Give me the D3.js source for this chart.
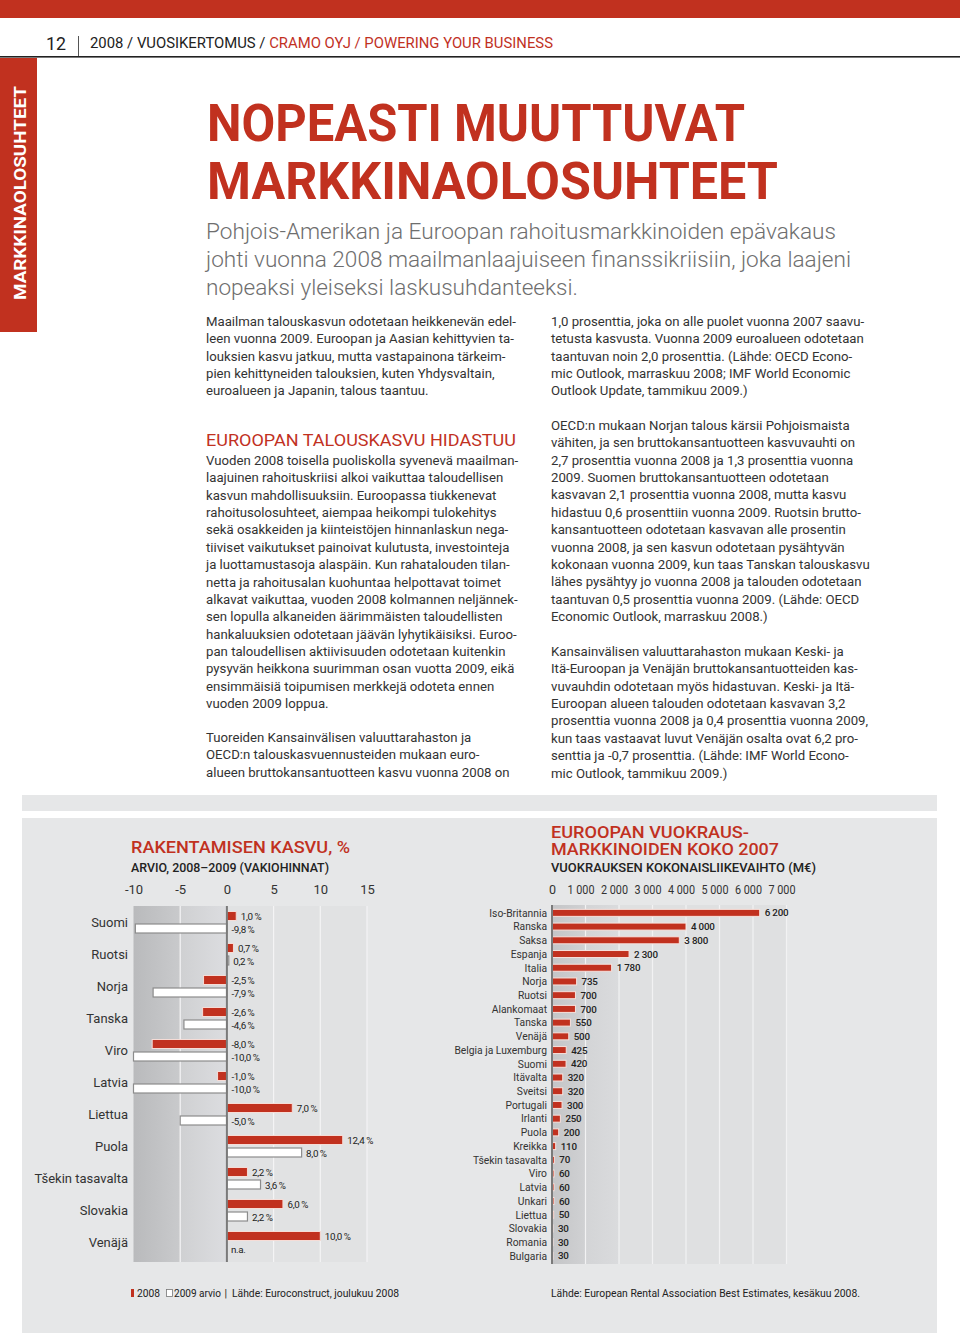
<!DOCTYPE html>
<html><head><meta charset="utf-8">
<script src="https://cdn.jsdelivr.net/npm/d3@7/dist/d3.min.js"></script>
<style>
html,body{margin:0;padding:0;background:#fff;}
svg{display:block;}
text{font-family:Roboto,"Noto Sans",sans-serif;}
</style></head>
<body>
<script>
// ---------- DATA ----------
const growthCountries = ["Suomi","Ruotsi","Norja","Tanska","Viro","Latvia","Liettua","Puola","Tšekin tasavalta","Slovakia","Venäjä"];
const growth2008 = [1.0, 0.7, -2.5, -2.6, -8.0, -1.0, 7.0, 12.4, 2.2, 6.0, 10.0];
const growth2009 = [-9.8, 0.2, -7.9, -4.6, -10.0, -10.0, -5.0, 8.0, 3.6, 2.2, null];
const growthTicks = [-10, -5, 0, 5, 10, 15];

const rentalCountries = ["Iso-Britannia","Ranska","Saksa","Espanja","Italia","Norja","Ruotsi","Alankomaat","Tanska","Venäjä","Belgia ja Luxemburg","Suomi","Itävalta","Sveitsi","Portugali","Irlanti","Puola","Kreikka","Tšekin tasavalta","Viro","Latvia","Unkari","Liettua","Slovakia","Romania","Bulgaria"];
const rentalValues = [6200, 4000, 3800, 2300, 1780, 735, 700, 700, 550, 500, 425, 420, 320, 320, 300, 250, 200, 110, 70, 60, 60, 60, 50, 30, 30, 30];
const rentalTicks = [0, 1000, 2000, 3000, 4000, 5000, 6000, 7000];

// ---------- TEXT ----------
const leftPara1 = ["Maailman talouskasvun odotetaan heikkenevän edel-","leen vuonna 2009. Euroopan ja Aasian kehittyvien ta-","louksien kasvu jatkuu, mutta vastapainona tärkeim-","pien kehittyneiden talouksien, kuten Yhdysvaltain,","euroalueen ja Japanin, talous taantuu."];
const leftPara2 = ["Vuoden 2008 toisella puoliskolla syvenevä maailman-","laajuinen rahoituskriisi alkoi vaikuttaa taloudellisen","kasvun mahdollisuuksiin. Euroopassa tiukkenevat","rahoitusolosuhteet, aiempaa heikompi tulokehitys","sekä osakkeiden ja kiinteistöjen hinnanlaskun nega-","tiiviset vaikutukset painoivat kulutusta, investointeja","ja luottamustasoja alaspäin. Kun rahatalouden tilan-","netta ja rahoitusalan kuohuntaa helpottavat toimet","alkavat vaikuttaa, vuoden 2008 kolmannen neljännek-","sen lopulla alkaneiden äärimmäisten taloudellisten","hankaluuksien odotetaan jäävän lyhytikäisiksi. Euroo-","pan taloudellisen aktiivisuuden odotetaan kuitenkin","pysyvän heikkona suurimman osan vuotta 2009, eikä","ensimmäisiä toipumisen merkkejä odoteta ennen","vuoden 2009 loppua."];
const leftPara3 = ["Tuoreiden Kansainvälisen valuuttarahaston ja","OECD:n talouskasvuennusteiden mukaan euro-","alueen bruttokansantuotteen kasvu vuonna 2008 on"];
const rightPara1 = ["1,0 prosenttia, joka on alle puolet vuonna 2007 saavu-","tetusta kasvusta. Vuonna 2009 euroalueen odotetaan","taantuvan noin 2,0 prosenttia. (Lähde: OECD Econo-","mic Outlook, marraskuu 2008; IMF World Economic","Outlook Update, tammikuu 2009.)"];
const rightPara2 = ["OECD:n mukaan Norjan talous kärsii Pohjoismaista","vähiten, ja sen bruttokansantuotteen kasvuvauhti on","2,7 prosenttia vuonna 2008 ja 1,3 prosenttia vuonna","2009. Suomen bruttokansantuotteen odotetaan","kasvavan 2,1 prosenttia vuonna 2008, mutta kasvu","hidastuu 0,6 prosenttiin vuonna 2009. Ruotsin brutto-","kansantuotteen odotetaan kasvavan alle prosentin","vuonna 2008, ja sen kasvun odotetaan pysähtyvän","kokonaan vuonna 2009, kun taas Tanskan talouskasvu","lähes pysähtyy jo vuonna 2008 ja talouden odotetaan","taantuvan 0,5 prosenttia vuonna 2009. (Lähde: OECD","Economic Outlook, marraskuu 2008.)"];
const rightPara3 = ["Kansainvälisen valuuttarahaston mukaan Keski- ja","Itä-Euroopan ja Venäjän bruttokansantuotteiden kas-","vuvauhdin odotetaan myös hidastuvan. Keski- ja Itä-","Euroopan alueen talouden odotetaan kasvavan 3,2","prosenttia vuonna 2008 ja 0,4 prosenttia vuonna 2009,","kun taas vastaavat luvut Venäjän osalta ovat 6,2 pro-","senttia ja -0,7 prosenttia. (Lähde: IMF World Econo-","mic Outlook, tammikuu 2009.)"];

// ---------- SETUP ----------
const RED = "#c1311f", PANEL = "#e6e7e8", TXT = "#333";
const fi = d3.formatLocale({decimal:",", thousands:" ", grouping:[3], currency:["","€"], minus:"-"});
const fmtPct = v => fi.format(".1f")(v) + "\u2009%";
const fmtNum = v => fi.format(",d")(v);

const svg = d3.select("body").append("svg").attr("width",960).attr("height",1335);
const defs = svg.append("defs");
function grad(id, c1, c2){
  const g = defs.append("linearGradient").attr("id",id).attr("x1","0").attr("x2","1").attr("y1","0").attr("y2","0");
  g.append("stop").attr("offset","0").attr("stop-color",c1);
  g.append("stop").attr("offset","1").attr("stop-color",c2);
}
grad("gA","#b9babc","#c9cacc");
grad("gB","#cfd0d2","#dcdde0");
grad("gC","#c4c5c7","#d0d1d3");
grad("gD","#d3d4d6","#dadbdd");

function fit(sel, w){ return sel.attr("textLength",w).attr("lengthAdjust","spacingAndGlyphs"); }

// ---------- PAGE FURNITURE ----------
svg.append("rect").attr("x",0).attr("y",0).attr("width",960).attr("height",18).attr("fill",RED);
fit(svg.append("text").attr("x",46).attr("y",50).attr("font-size",19).attr("fill","#222").text("12"),20);
svg.append("line").attr("x1",78.5).attr("x2",78.5).attr("y1",36).attr("y2",56).attr("stroke","#555").attr("stroke-width",1);
const hdr = fit(svg.append("text").attr("x",90).attr("y",48).attr("font-size",14).attr("font-weight",400),463);
hdr.append("tspan").attr("fill","#222").text("2008 / VUOSIKERTOMUS / ");
hdr.append("tspan").attr("fill",RED).text("CRAMO OYJ / POWERING YOUR BUSINESS");
svg.append("rect").attr("x",0).attr("y",56).attr("width",960).attr("height",1.6).attr("fill","#222");
svg.append("rect").attr("x",0).attr("y",58).attr("width",37).attr("height",274).attr("fill",RED);
fit(svg.append("text").attr("transform","translate(26,193) rotate(-90)").attr("text-anchor","middle")
  .attr("font-size",17).attr("font-weight",700).attr("fill","#fff"),214)
  .text("MARKKINAOLOSUHTEET");

// Title
[["NOPEASTI MUUTTUVAT",141,538],["MARKKINAOLOSUHTEET",199,571]].forEach(([t,y,w])=>{
  fit(svg.append("text").attr("x",207).attr("y",y).attr("font-size",52).attr("font-weight",700).attr("fill",RED),w).text(t);
});
[["Pohjois-Amerikan ja Euroopan rahoitusmarkkinoiden epävakaus",239,630],["johti vuonna 2008 maailmanlaajuiseen finanssikriisiin, joka laajeni",267,645],["nopeaksi yleiseksi laskusuhdanteeksi.",295,372]].forEach(([t,y,w])=>{
  fit(svg.append("text").attr("x",206).attr("y",y).attr("font-size",21.5).attr("font-weight",300).attr("fill","#6e6e6e"),w).text(t);
});

function para(lines, x, y0){
  svg.append("g").selectAll("text").data(lines).join("text")
    .attr("x",x).attr("y",(d,i)=>y0+i*17.36).attr("font-size",13.2).attr("fill",TXT).text(d=>d);
}
para(leftPara1,206,326);
fit(svg.append("text").attr("x",206).attr("y",445.5).attr("font-size",17).attr("fill",RED),310).text("EUROOPAN TALOUSKASVU HIDASTUU");
para(leftPara2,206,465);
para(leftPara3,206,742);
para(rightPara1,551,326);
para(rightPara2,551,430);
para(rightPara3,551,656);

// Chart panel
svg.append("rect").attr("x",22).attr("y",795).attr("width",915).attr("height",16).attr("fill",PANEL);
svg.append("rect").attr("x",22).attr("y",818).attr("width",915).attr("height",515).attr("fill",PANEL);

// ---------- LEFT CHART ----------
const top1 = 906, bot1 = 1262;
const x1 = d3.scaleLinear().domain([-10,15]).range([133.5,367]);
const y1 = d3.scaleBand().domain(growthCountries).range([906,1258]);
const g1 = svg.append("g");
fit(g1.append("text").attr("x",131).attr("y",853).attr("font-size",17).attr("font-weight",500).attr("fill",RED),219).text("RAKENTAMISEN KASVU, %");
fit(g1.append("text").attr("x",131).attr("y",872).attr("font-size",12).attr("font-weight",500).attr("fill","#222"),198).text("ARVIO, 2008–2009 (VAKIOHINNAT)");
g1.append("rect").attr("x",x1(-10)).attr("y",top1).attr("width",x1(-5)-x1(-10)).attr("height",bot1-top1).attr("fill","url(#gA)");
g1.append("rect").attr("x",x1(-5)).attr("y",top1).attr("width",x1(0)-x1(-5)).attr("height",bot1-top1).attr("fill","url(#gB)");
g1.append("rect").attr("x",x1(0)).attr("y",top1).attr("width",x1(15)-x1(0)).attr("height",bot1-top1).attr("fill","#e1e2e3");
g1.selectAll("line.grid").data(growthTicks.filter(d=>d!==0 && d!==-10)).join("line")
  .attr("x1",d=>x1(d)).attr("x2",d=>x1(d)).attr("y1",top1).attr("y2",bot1).attr("stroke","#f4f4f5").attr("stroke-width",1.2);
const ax1 = g1.append("g").attr("transform",`translate(0,${top1-9})`)
  .call(d3.axisTop(x1).tickValues(growthTicks).tickSize(0).tickFormat(d=>String(d)));
ax1.select(".domain").remove();
ax1.selectAll("text").attr("font-size",13).attr("fill",TXT).attr("font-family","Roboto,sans-serif");

const rows1 = growthCountries.map((c,i)=>({c, a:growth2008[i], b:growth2009[i]}));
g1.selectAll("text.cl").data(rows1).join("text").attr("class","cl")
  .attr("x",128).attr("y",d=>y1(d.c)+y1.bandwidth()/2+4.5).attr("text-anchor","end")
  .attr("font-size",13).attr("fill",TXT).text(d=>d.c);
g1.selectAll("rect.b09").data(rows1.filter(d=>d.b!==null)).join("rect").attr("class","b09")
  .attr("x",d=>x1(Math.min(0,d.b))).attr("y",d=>y1(d.c)+18).attr("width",d=>Math.abs(x1(d.b)-x1(0))).attr("height",9)
  .attr("fill","#fff").attr("stroke","#8c8c8c").attr("stroke-width",1.2);
g1.selectAll("rect.b08").data(rows1).join("rect").attr("class","b08")
  .attr("x",d=>x1(Math.min(0,d.a))).attr("y",d=>y1(d.c)+5.5).attr("width",d=>Math.abs(x1(d.a)-x1(0))).attr("height",9)
  .attr("fill",RED).attr("stroke","#f6dcd6").attr("stroke-width",1);
g1.append("line").attr("x1",x1(0)).attr("x2",x1(0)).attr("y1",top1).attr("y2",bot1).attr("stroke","#7a7a7a").attr("stroke-width",2);
g1.selectAll("text.va").data(rows1).join("text").attr("class","va")
  .attr("x",d=>Math.max(x1(d.a),x1(0))+4.5).attr("y",d=>y1(d.c)+13.5)
  .attr("font-size",9.8).attr("letter-spacing",-0.3).attr("fill","#222").text(d=>fmtPct(d.a));
g1.selectAll("text.vb").data(rows1).join("text").attr("class","vb")
  .attr("x",d=>d.b===null?x1(0)+4:Math.max(x1(d.b),x1(0))+4.5).attr("y",d=>y1(d.c)+26.5)
  .attr("font-size",9.8).attr("letter-spacing",-0.3).attr("fill","#222").text(d=>d.b===null?"n.a.":fmtPct(d.b));

// legend
g1.append("rect").attr("x",131).attr("y",1289).attr("width",3).attr("height",8).attr("fill",RED);
fit(g1.append("text").attr("x",137).attr("y",1297).attr("font-size",10.5).attr("fill","#222"),23).text("2008");
g1.append("rect").attr("x",166.5).attr("y",1289.5).attr("width",6).attr("height",7).attr("fill","#fff").attr("stroke","#777").attr("stroke-width",0.8);
fit(g1.append("text").attr("x",174).attr("y",1297).attr("font-size",10.5).attr("fill","#222"),47).text("2009 arvio");
g1.append("text").attr("x",224.5).attr("y",1297).attr("font-size",10.5).attr("fill","#222").text("|");
fit(g1.append("text").attr("x",232).attr("y",1297).attr("font-size",10.5).attr("fill","#222"),167).text("Lähde: Euroconstruct, joulukuu 2008");

// ---------- RIGHT CHART ----------
const top2 = 905, bot2 = 1264;
const x2 = d3.scaleLinear().domain([0,7000]).range([552,786.5]);
const y2 = d3.scaleBand().domain(rentalCountries).range([906,906+26*13.72]);
const g2 = svg.append("g");
fit(g2.append("text").attr("x",551).attr("y",838).attr("font-size",16.5).attr("font-weight",500).attr("fill",RED),198).text("EUROOPAN VUOKRAUS-");
fit(g2.append("text").attr("x",551).attr("y",855).attr("font-size",16.5).attr("font-weight",500).attr("fill",RED),228).text("MARKKINOIDEN KOKO 2007");
fit(g2.append("text").attr("x",551).attr("y",872).attr("font-size",12).attr("font-weight",500).attr("fill","#222"),265).text("VUOKRAUKSEN KOKONAISLIIKEVAIHTO (M€)");
g2.append("rect").attr("x",x2(0)).attr("y",top2).attr("width",x2(1000)-x2(0)).attr("height",bot2-top2).attr("fill","url(#gC)");
g2.append("rect").attr("x",x2(1000)).attr("y",top2).attr("width",x2(2000)-x2(1000)).attr("height",bot2-top2).attr("fill","url(#gD)");
g2.append("rect").attr("x",x2(2000)).attr("y",top2).attr("width",x2(7000)-x2(2000)).attr("height",bot2-top2).attr("fill","#dfe0e1");
g2.selectAll("line.grid").data(rentalTicks.filter(d=>d>0)).join("line")
  .attr("x1",d=>x2(d)).attr("x2",d=>x2(d)).attr("y1",top2).attr("y2",bot2).attr("stroke","#f2f2f3").attr("stroke-width",1.2);
const ax2 = g2.append("g").attr("transform",`translate(0,${top2-8})`)
  .call(d3.axisTop(x2).tickValues(rentalTicks).tickSize(0).tickFormat(fmtNum));
ax2.select(".domain").remove();
ax2.selectAll("text").attr("font-size",12.5).attr("fill",TXT).attr("font-family","Roboto,sans-serif")
  .attr("dx",d=>d===0?0:-5)
  .each(function(d){ if(d>0) d3.select(this).attr("textLength",27).attr("lengthAdjust","spacingAndGlyphs"); });

const rows2 = rentalCountries.map((c,i)=>({c, v:rentalValues[i]}));
g2.selectAll("text.cl").data(rows2).join("text").attr("class","cl")
  .attr("x",547).attr("y",d=>y2(d.c)+y2.bandwidth()/2+3.8).attr("text-anchor","end")
  .attr("font-size",10.3).attr("fill",TXT).text(d=>d.c);
g2.selectAll("rect.bar").data(rows2).join("rect").attr("class","bar")
  .attr("x",x2(0)).attr("y",d=>y2(d.c)+y2.bandwidth()/2-3.5).attr("width",d=>x2(d.v)-x2(0)).attr("height",7)
  .attr("fill",RED).attr("stroke","#f7e2dd").attr("stroke-width",1);
g2.append("line").attr("x1",x2(0)).attr("x2",x2(0)).attr("y1",top2).attr("y2",bot2).attr("stroke","#7a7a7a").attr("stroke-width",2);
g2.selectAll("text.val").data(rows2).join("text").attr("class","val")
  .attr("x",d=>x2(d.v)+5).attr("y",d=>y2(d.c)+y2.bandwidth()/2+3.6)
  .attr("font-size",9.8).attr("font-weight",500).attr("letter-spacing",-0.2).attr("fill","#222").text(d=>fmtNum(d.v));

fit(g2.append("text").attr("x",551).attr("y",1297).attr("font-size",10.5).attr("fill","#222"),309).text("Lähde: European Rental Association Best Estimates, kesäkuu 2008.");
</script>
</body></html>
